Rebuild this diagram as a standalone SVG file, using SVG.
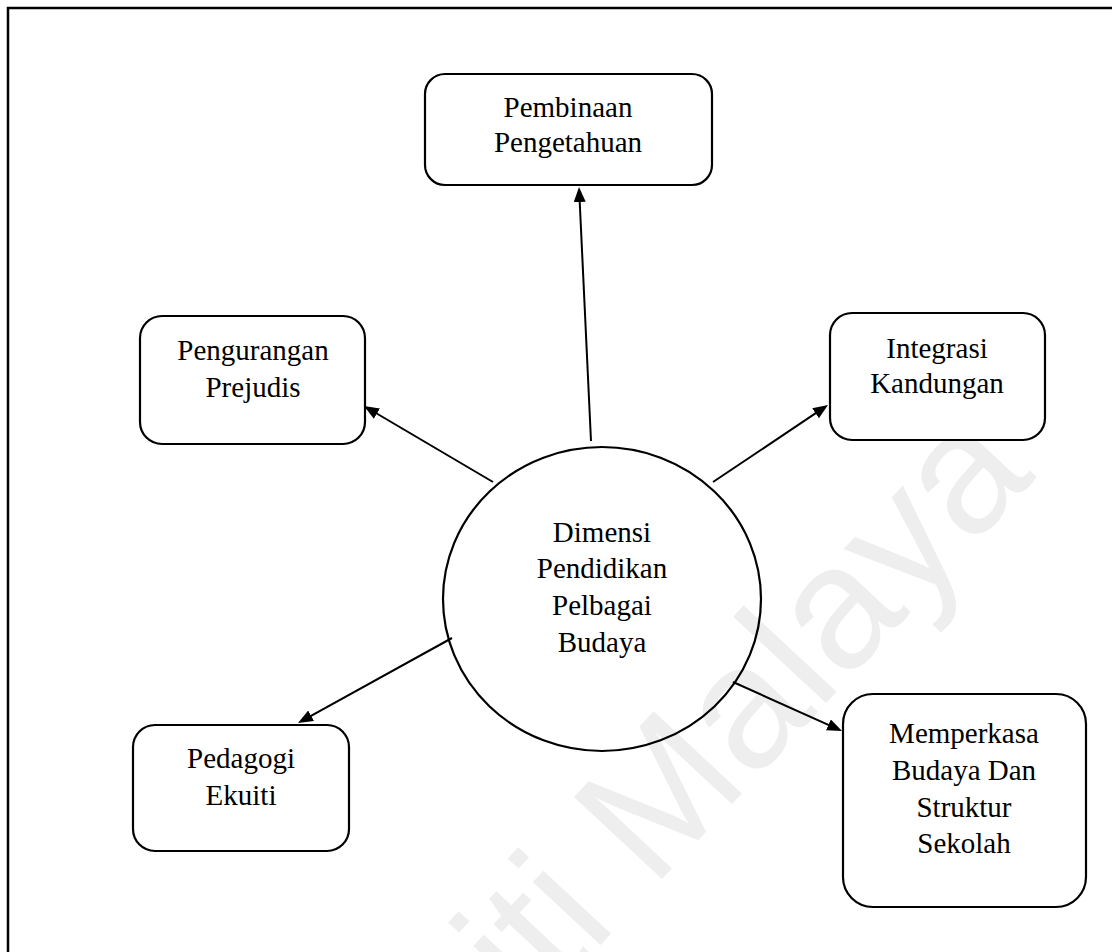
<svg xmlns="http://www.w3.org/2000/svg" width="1112" height="952" viewBox="0 0 1112 952">
<style>
.box{fill:#fff;stroke:#000;stroke-width:2.2}
.lbl{font-family:"Liberation Serif","Times New Roman",serif;font-size:29px;fill:#000;text-anchor:middle}
.con{stroke:#000;stroke-width:2;fill:none;marker-end:url(#ah)}
.wm{font-family:"Liberation Sans",Arial,sans-serif;font-size:175px;fill:#eeeeee;text-anchor:end}
</style>
<defs>
<marker id="ah" markerUnits="userSpaceOnUse" markerWidth="16" markerHeight="13" refX="11" refY="6" orient="auto" viewBox="0 0 16 13">
<path d="M0,0 L15,6 L0,12 z" fill="#000"/>
</marker>
</defs>
<rect width="1112" height="952" fill="#fff"/>
<text class="wm" transform="translate(1037,477) rotate(-47)">Universiti Malaya</text>
<rect x="8" y="8" width="1120" height="960" fill="none" stroke="#000" stroke-width="2.5"/>
<g id="connectors">
<line class="con" x1="591" y1="441" x2="579.2" y2="191"/>
<line class="con" x1="493" y1="482" x2="367.4" y2="408"/>
<line class="con" x1="713" y1="482" x2="824.7" y2="407.2"/>
<line class="con" x1="452" y1="638" x2="301.5" y2="721.1"/>
<line class="con" x1="733" y1="682" x2="838.4" y2="729.4"/>
</g>
<g id="center">
<ellipse cx="602" cy="599" rx="159" ry="152" fill="none" stroke="#000" stroke-width="2.2"/>
<text class="lbl" x="602" y="542">Dimensi</text>
<text class="lbl" x="602" y="578">Pendidikan</text>
<text class="lbl" x="602" y="615">Pelbagai</text>
<text class="lbl" x="602" y="652">Budaya</text>
</g>
<g id="pembinaan">
<rect class="box" x="425" y="74" width="287" height="111" rx="20"/>
<text class="lbl" x="568" y="117">Pembinaan</text>
<text class="lbl" x="568" y="152">Pengetahuan</text>
</g>
<g id="pengurangan">
<rect class="box" x="140" y="316" width="225" height="128" rx="22"/>
<text class="lbl" x="253" y="360">Pengurangan</text>
<text class="lbl" x="253" y="397">Prejudis</text>
</g>
<g id="integrasi">
<rect class="box" x="830" y="313" width="215" height="127" rx="22"/>
<text class="lbl" x="937" y="358">Integrasi</text>
<text class="lbl" x="937" y="393">Kandungan</text>
</g>
<g id="pedagogi">
<rect class="box" x="133" y="725" width="216" height="126" rx="22"/>
<text class="lbl" x="241" y="768">Pedagogi</text>
<text class="lbl" x="241" y="805">Ekuiti</text>
</g>
<g id="memperkasa">
<rect class="box" x="843" y="694" width="243" height="213" rx="30"/>
<text class="lbl" x="964" y="743">Memperkasa</text>
<text class="lbl" x="964" y="780">Budaya Dan</text>
<text class="lbl" x="964" y="817">Struktur</text>
<text class="lbl" x="964" y="853">Sekolah</text>
</g>
</svg>
